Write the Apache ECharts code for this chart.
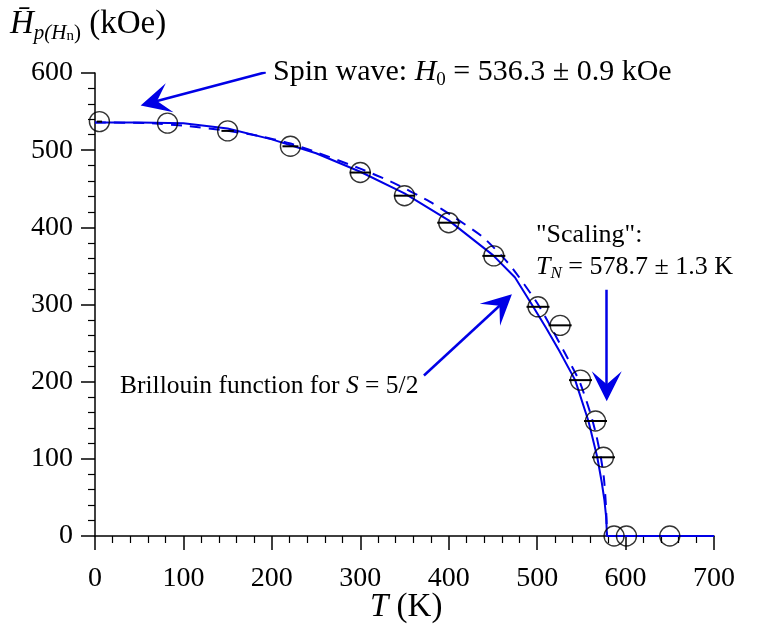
<!DOCTYPE html>
<html>
<head>
<meta charset="utf-8">
<script src="https://cdn.jsdelivr.net/npm/echarts@6/dist/echarts.min.js"></script>
<style>
  html, body { margin: 0; padding: 0; background: #ffffff; }
  #chart { width: 761px; height: 631px; }
</style>
</head>
<body>
<div id="chart"></div>
<script>
// ---- Data ----
// Measured points: temperature T (K), field H (kOe), T error half-width (K)
const ptT   = [5, 82, 150, 221, 300, 350, 400, 451, 501, 526, 549, 566, 575, 587, 601, 650];
const ptH   = [537, 535, 525, 505, 471, 441, 406, 363, 297, 273, 202, 149, 102, 0, 0, 0];
const ptErr = [3, 0, 7, 9, 12, 12, 13, 13, 13, 13, 13, 13, 13, 0, 0, 0];

// Brillouin function for S = 5/2 (solid curve)
const brT = [0, 50, 100, 150, 200, 250, 300, 350, 400, 450, 475, 494, 510, 525, 543, 558, 568, 573, 576, 578, 579, 700];
const brH = [536, 536, 535, 528, 514, 496, 472, 444, 409, 364, 335, 300, 270, 240, 202, 149, 102, 70, 47, 25, 0, 0];

// "Scaling" fit (dashed curve)
const scT = [0, 60, 107, 150, 183, 220, 251, 300, 337, 379, 405, 439, 470, 500, 515, 530, 548, 560, 567, 572, 575.5, 577.5, 578.5, 578.7];
const scH = [536, 535, 531, 525, 519, 509, 497, 476, 458, 433, 414, 387, 350, 302, 272, 240, 200, 160, 130, 102, 75, 45, 20, 0];

// Axis ticks
const xTicks = [0, 100, 200, 300, 400, 500, 600, 700];
const yTicks = [0, 100, 200, 300, 400, 500, 600];

// ---- Chart ----
const BLUE = '#0000e6';
const FONT = '"Liberation Serif", "Times New Roman", serif';
const FS = 28;
const ARROW = 'path://M10,0 L20,30 L10,17 L0,30 Z';

const pts = ptT.map((t, i) => [t, ptH[i]]);
const errs = ptT.map((t, i) => [t, ptH[i], ptErr[i]]);
const br = brT.map((t, i) => [t, brH[i]]);
const sc = scT.map((t, i) => [t, scH[i]]);

const chart = echarts.init(document.getElementById('chart'), null, { renderer: 'canvas' });

function richSet(size) {
  const lh = Math.round(size * 1.18);
  const ss = Math.round(size * 0.64);
  return {
    n:    { fontFamily: FONT, fontSize: size, color: '#000', lineHeight: lh },
    i:    { fontFamily: FONT, fontSize: size, fontStyle: 'italic', color: '#000', lineHeight: lh },
    sub:  { fontFamily: FONT, fontSize: ss, color: '#000', verticalAlign: 'bottom', lineHeight: Math.round(ss * 0.8) },
    subi: { fontFamily: FONT, fontSize: ss, fontStyle: 'italic', color: '#000', verticalAlign: 'bottom', lineHeight: Math.round(ss * 0.8) },
    ssub: { fontFamily: FONT, fontSize: Math.round(size * 0.46), color: '#000', verticalAlign: 'bottom', lineHeight: 6 }
  };
}

function txt(x, y, text, size) {
  return {
    type: 'text', left: x, top: y, silent: true,
    style: { text: text, rich: richSet(size), fontFamily: FONT, fontSize: size, fill: '#000' }
  };
}

const option = {
  animation: false,
  backgroundColor: '#ffffff',
  grid: { left: 95, top: 73, width: 619, height: 463, containLabel: false },
  xAxis: {
    type: 'value', min: 0, max: 700, interval: 100,
    axisLine: { show: true, onZero: false, lineStyle: { color: '#000', width: 1.5 } },
    axisTick: { show: true, inside: false, length: 14, lineStyle: { color: '#000', width: 1.5 } },
    minorTick: { show: true, splitNumber: 5, length: 7, lineStyle: { color: '#000', width: 1.2 } },
    splitLine: { show: false },
    axisLabel: { color: '#000', fontFamily: FONT, fontSize: FS, margin: 29,
      formatter: v => (xTicks.indexOf(v) >= 0 ? String(v) : '') }
  },
  yAxis: {
    type: 'value', min: 0, max: 600, interval: 100,
    axisLine: { show: true, onZero: false, lineStyle: { color: '#000', width: 1.5 } },
    axisTick: { show: true, inside: false, length: 14, lineStyle: { color: '#000', width: 1.5 } },
    minorTick: { show: true, splitNumber: 5, length: 7, lineStyle: { color: '#000', width: 1.2 } },
    splitLine: { show: false },
    axisLabel: { color: '#000', fontFamily: FONT, fontSize: FS, margin: 22,
      formatter: v => (yTicks.indexOf(v) >= 0 ? String(v) : '') }
  },
  series: [
    {
      name: 'Brillouin', type: 'line', data: br, showSymbol: false, symbol: 'none',
      lineStyle: { color: BLUE, width: 2 }, z: 3, silent: true
    },
    {
      name: 'Scaling', type: 'line', data: sc, showSymbol: false, symbol: 'none', smooth: 0.2,
      lineStyle: { color: BLUE, width: 2, type: [11, 8] }, z: 3, silent: true
    },
    {
      name: 'errT', type: 'custom', data: errs, z: 4, silent: true,
      renderItem: function (params, api) {
        const t = api.value(0), h = api.value(1), e = api.value(2);
        if (!e) return null;
        const a = api.coord([t - e, h]);
        const b = api.coord([t + e, h]);
        return { type: 'line', shape: { x1: a[0], y1: a[1], x2: b[0], y2: b[1] },
          style: { stroke: '#000', lineWidth: 2 } };
      }
    },
    {
      name: 'data', type: 'scatter', data: pts, symbol: 'circle', symbolSize: 20, z: 5,
      itemStyle: { color: 'rgba(0,0,0,0)', borderColor: '#000', borderWidth: 1.4 }, silent: true
    },
    {
      name: 'arrows', type: 'lines', coordinateSystem: 'cartesian2d', z: 6, silent: true,
      symbol: ['none', ARROW], symbolSize: [16, 30],
      lineStyle: { color: BLUE, width: 2.5, opacity: 1 },
      data: [
        { coords: [[193, 601], [68, 563]] },
        { coords: [[372, 208], [459, 300]] },
        { coords: [[578.7, 319], [578.7, 194]] }
      ]
    }
  ],
  graphic: [
    txt(10, 8, '{i|H\u0304}{subi|p(H}{ssub|n}{sub|)}{n| (kOe)}', 33),
    txt(273, 57, '{n|Spin wave: }{i|H}{sub|0}{n| = 536.3 \u00b1 0.9 kOe}', 30),
    txt(536, 222, '{n|"Scaling":}', 26),
    txt(536, 254, '{i|T}{subi|N}{n| = 578.7 \u00b1 1.3 K}', 26),
    txt(120, 373, '{n|Brillouin function for }{i|S}{n| = 5/2}', 25.5),
    txt(370, 591, '{i|T}{n| (K)}', 33)
  ]
};
chart.setOption(option);
</script>
</body>
</html>
